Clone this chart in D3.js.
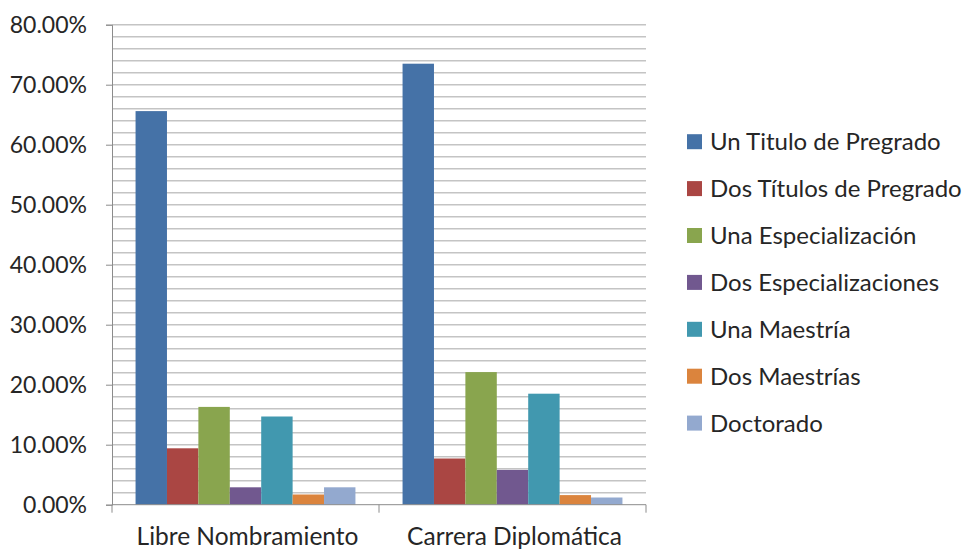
<!DOCTYPE html>
<html>
<head>
<meta charset="utf-8">
<script src="https://cdn.jsdelivr.net/npm/d3@7"></script>
<style>
  body { margin: 0; background: #fff; }
  text { font-family: Lato, "Open Sans", sans-serif; fill: #262626; }
</style>
</head>
<body>
<svg id="chart" width="964" height="551"></svg>
<script>
// categories on the x axis
var categories = ["Libre Nombramiento", "Carrera Diplomática"];
// one series per education level (values in %)
var seriesNames = ["Un Titulo de Pregrado", "Dos Títulos de Pregrado", "Una Especialización",
                   "Dos Especializaciones", "Una Maestría", "Dos Maestrías", "Doctorado"];
var libreValues = [65.6, 9.4, 16.3, 2.9, 14.7, 1.7, 2.9];
var carreraValues = [73.5, 7.7, 22.1, 5.8, 18.5, 1.6, 1.2];
var yTicks = [0, 10, 20, 30, 40, 50, 60, 70, 80];
var colors = ["#4572A7", "#AA4643", "#89A54E", "#71588F", "#4198AF", "#DB843D", "#93A9CF"];

var svg = d3.select("#chart");
var plotLeft = 112, plotRight = 646, plotTop = 24.7, plotBottom = 504.7;

var x0 = d3.scaleBand().domain(categories).range([plotLeft, plotRight]).paddingInner(0).paddingOuter(0);
var bandPad = 0.75 / 8.5; // excel gap width 150%
var x1 = d3.scaleBand().domain(seriesNames)
    .range([x0.bandwidth() * bandPad, x0.bandwidth() * (1 - bandPad)]);
var y = d3.scaleLinear().domain([0, 80]).range([plotBottom, plotTop]);

// gridlines every 2%
var grid = d3.range(2, 81, 2);
svg.append("g").selectAll("line").data(grid).enter().append("line")
    .attr("x1", plotLeft).attr("x2", plotRight)
    .attr("y1", function (d) { return y(d); })
    .attr("y2", function (d) { return y(d); })
    .style("stroke", "#c4c4c4").style("stroke-width", 1.5);

var data = [libreValues, carreraValues];
var groups = svg.append("g").selectAll("g").data(categories).enter().append("g")
    .attr("transform", function (d) { return "translate(" + x0(d) + ",0)"; });
groups.selectAll("rect")
    .data(function (d, i) {
        return seriesNames.map(function (s, j) { return {s: s, v: data[i][j], c: colors[j]}; });
    })
    .enter().append("rect")
    .attr("x", function (d) { return x1(d.s); })
    .attr("width", x1.bandwidth())
    .attr("y", function (d) { return y(d.v); })
    .attr("height", function (d) { return plotBottom - y(d.v); })
    .style("fill", function (d) { return d.c; });

// axes
var yAxis = d3.axisLeft(y).tickValues(yTicks).tickSize(6)
    .tickFormat(function (d) { return d.toFixed(2) + "%"; });
var gy = svg.append("g").attr("transform", "translate(" + plotLeft + ",0)").call(yAxis);
gy.select(".domain").style("stroke", "#8c8c8c");
gy.selectAll(".tick line").style("stroke", "#8c8c8c");
gy.selectAll(".tick text").attr("x", -25).style("font-size", "23px").style("font-family", null)
    .style("fill", "#262626");

var gx = svg.append("g").attr("transform", "translate(0," + plotBottom + ")");
gx.append("line").attr("x1", plotLeft).attr("x2", plotRight).style("stroke", "#8c8c8c");
gx.selectAll("line.tk").data([plotLeft, plotLeft + x0.bandwidth(), plotRight]).enter().append("line")
    .attr("class", "tk")
    .attr("x1", function (d) { return d; }).attr("x2", function (d) { return d; })
    .attr("y1", 0).attr("y2", 8).style("stroke", "#8c8c8c");
gx.selectAll("text").data(categories).enter().append("text")
    .attr("x", function (d) { return x0(d) + x0.bandwidth() / 2 + 2; })
    .attr("y", 40)
    .attr("text-anchor", "middle")
    .style("font-size", "24.5px")
    .text(function (d) { return d; });

// legend
var legend = svg.append("g").selectAll("g").data(seriesNames).enter().append("g")
    .attr("transform", function (d, i) { return "translate(687," + (141.7 + i * 46.9) + ")"; });
legend.append("rect").attr("x", 0).attr("y", -7.5).attr("width", 15).attr("height", 15)
    .style("fill", function (d, i) { return colors[i]; });
legend.append("text").attr("x", 23).attr("dy", "0.35em")
    .style("font-size", "24px")
    .text(function (d) { return d; });
</script>
</body>
</html>
